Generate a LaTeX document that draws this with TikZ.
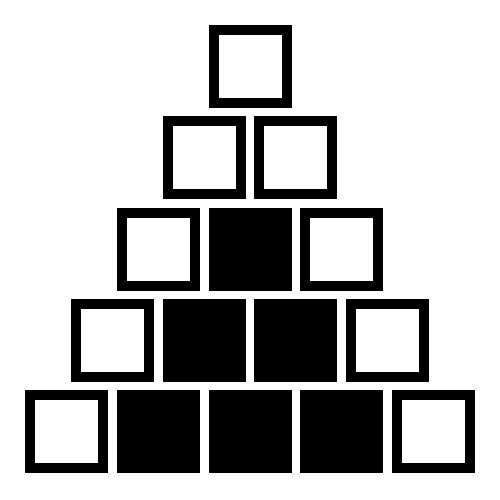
\documentclass[tikz,border=0pt]{standalone}
\usepackage{tikz}

\tikzset{
  openbox/.style={draw=black, line width=0.2cm, fill=white, minimum size=1.46cm, inner sep=0pt},
  fullbox/.style={draw=black, line width=0.2cm, fill=black, minimum size=1.46cm, inner sep=0pt}
}

\begin{document}
\begin{tikzpicture}
      \useasboundingbox (0, 0) rectangle (10, 10);
      % top
      \node [openbox] (top) at (5, 8.67) {};
      % second row
      \node [openbox] (rowb1) at (4.084, 6.844) {};
      \node [openbox] (rowb2) at (5.916, 6.844) {};
      % third row
      \node [openbox] (rowc1) at (3.168, 5.018) {};
      \node [fullbox] (rowc2) at (5, 5.018) {};
      \node [openbox] (rowc3) at (6.832, 5.018) {};
      % fourth row
      \node [openbox] (rowd1) at (2.252, 3.192) {};
      \node [fullbox] (rowd2) at (4.084, 3.192) {};
      \node [fullbox] (rowd3) at (5.916, 3.192) {};
      \node [openbox] (rowd4) at (7.748, 3.192) {};
      % base
      \node [openbox] (rowe1) at (1.336, 1.366) {};
      \node [fullbox] (rowe2) at (3.168, 1.366) {};
      \node [fullbox] (rowe3) at (5, 1.366) {};
      \node [fullbox] (rowe4) at (6.832, 1.366) {};
      \node [openbox] (rowe5) at (8.664, 1.366) {};
    \end{tikzpicture}
\end{document}
